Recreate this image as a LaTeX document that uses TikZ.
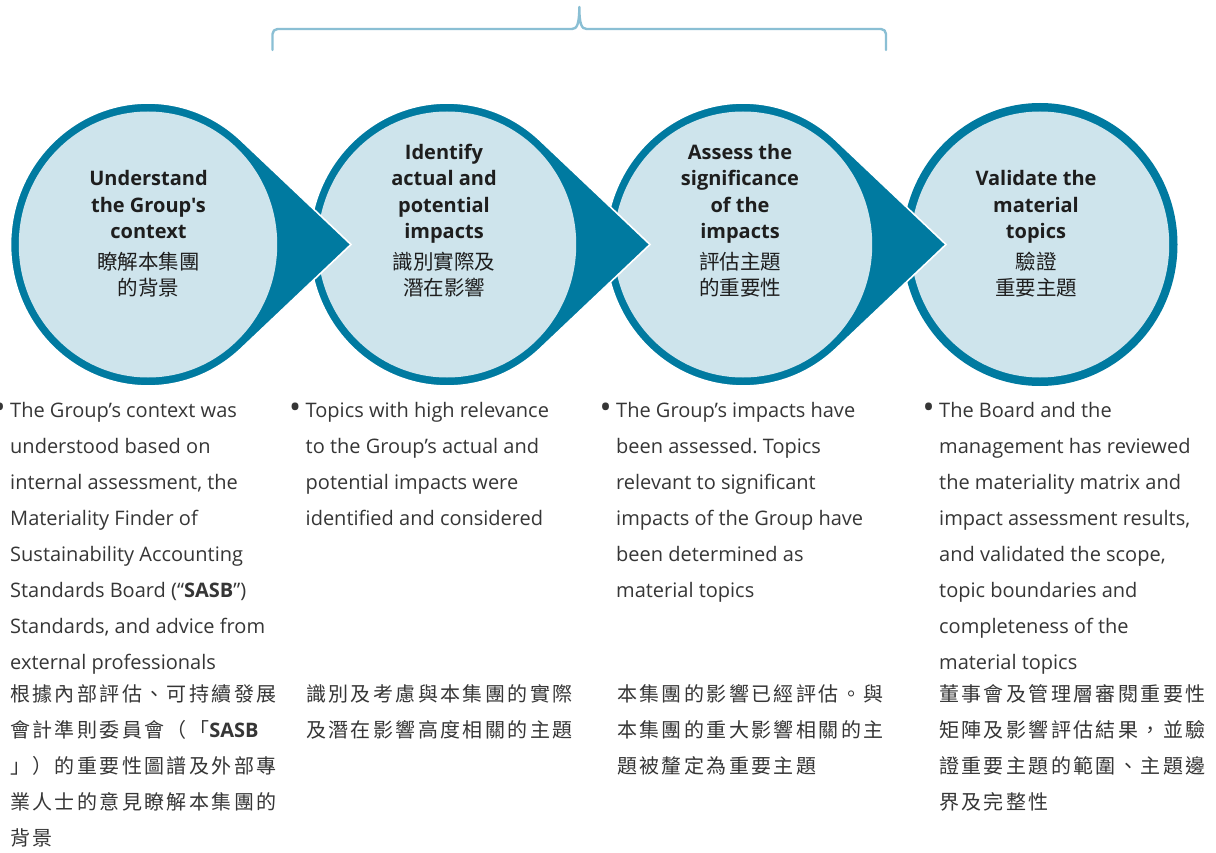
\documentclass[tikz,border=0pt]{standalone}
\usepackage{fontspec}
\setmainfont{Open Sans}
\newfontfamily\headfont{Open Sans}[Ligatures=TeXOff]
\newfontfamily\cjk{Noto Sans CJK TC}
\newfontfamily\cjkbody{Noto Sans CJK TC}[LetterSpace=12]
\frenchspacing
\definecolor{ringteal}{HTML}{007AA0}
\definecolor{discfill}{HTML}{CEE4EC}
\definecolor{bracecol}{HTML}{8ABFD4}
\definecolor{bodytext}{HTML}{363636}
\definecolor{headtext}{HTML}{1E1E1E}

% one step: teal tear-drop pointing right, light disc on top
\newcommand\stepdrop[1]{%
  \begin{scope}[shift={(#1,244.5)},xscale=0.9717]
    \filldraw[fill=ringteal,draw=white,line width=1.6pt]
      (208.9,0) -- (47.36:141.5) arc[start angle=47.36,end angle=312.64,radius=141.5] -- cycle;
    \fill[discfill] (0,0) circle[radius=133];
  \end{scope}}
% last step: plain ringed disc
\newcommand\stepdisc[1]{%
  \begin{scope}[shift={(#1,244.5)},xscale=0.9717]
    \fill[ringteal] (0,0) circle[radius=141.5];
    \fill[discfill] (0,0) circle[radius=133];
  \end{scope}}
% list bullet hung in the left margin
\newcommand\hangbullet{\llap{{\fontsize{32}{32}\selectfont\raisebox{-1.5pt}{•}}\hspace{4.5pt}}}

\begin{document}
\begin{tikzpicture}[x=1pt,y=-1pt,
  headen/.style={inner sep=0pt,align=center,text=headtext,anchor=base,
    font=\headfont\fontsize{20}{26.5}\selectfont\bfseries},
  headzh/.style={inner sep=0pt,align=center,text=headtext,anchor=base,
    font=\cjk\fontsize{20.5}{26}\selectfont},
  bodyen/.style={inner sep=0pt,align=left,text=bodytext,anchor=base west,
    font=\fontsize{20}{36}\selectfont},
  bodyzh/.style={inner sep=0pt,align=left,text=bodytext,anchor=base west,
    font=\cjkbody\fontsize{20}{36}\selectfont}]
\useasboundingbox[fill=white] (0,0) rectangle (1216,853);

% bracket over the middle steps
\draw[bracecol,line width=2.4pt,line cap=round,line join=round]
  (272.5,50) -- (272.5,34) arc[start angle=180,end angle=270,radius=5]
  -- (572,29) .. controls (577,29) and (579.3,24) .. (579.3,7)
  .. controls (579.3,24) and (581.6,29) .. (586.6,29)
  -- (881,29) arc[start angle=270,end angle=360,radius=5] -- (886,50);

% steps, drawn right to left so each point lies over the next disc
\stepdisc{1040}
\stepdrop{743}
\stepdrop{447}
\stepdrop{148}

% step titles (anchored on the baseline of their last line)
\node[headen] (h1) at (148.5,239) {Understand\\the Group's\\context};
\node[headzh] (z1) at (148.5,295.6) {瞭解本集團\\的背景};
\node[headen] (h2) at (444,239) {Identify\\actual and\\potential\\impacts};
\node[headzh] (z2) at (444,295.6) {識別實際及\\潛在影響};
\node[headen] (h3) at (740,239) {Assess the\\significance\\of the\\impacts};
\node[headzh] (z3) at (740,295.6) {評估主題\\的重要性};
\node[headen] (h4) at (1036,239) {Validate the\\material\\topics};
\node[headzh] (z4) at (1036,295.6) {驗證\\重要主題};

% descriptions (anchored on the baseline of their last line)
\node[bodyen] (e1) at (10,669) {\hangbullet The Group’s context was\\understood based on\\internal assessment, the\\Materiality Finder of\\Sustainability Accounting\\Standards Board (“\textbf{SASB}”)\\Standards, and advice from\\external professionals};
\node[bodyzh] (c1) at (10,845) {根據內部評估、可持續發展\\會計準則委員會（「{\normalfont\bfseries SASB}\\」）的重要性圖譜及外部專\\業人士的意見瞭解本集團的\\背景};

\node[bodyen] (e2) at (305.5,525) {\hangbullet Topics with high relevance\\to the Group’s actual and\\potential impacts were\\identified and considered};
\node[bodyzh] (c2) at (306,737) {識別及考慮與本集團的實際\\及潛在影響高度相關的主題};

\node[bodyen] (e3) at (616,597) {\hangbullet The Group’s impacts have\\been assessed. Topics\\relevant to significant\\impacts of the Group have\\been determined as\\material topics};
\node[bodyzh] (c3) at (617,773) {本集團的影響已經評估。與\\本集團的重大影響相關的主\\題被釐定為重要主題};

\node[bodyen] (e4) at (939,669) {\hangbullet The Board and the\\management has reviewed\\the materiality matrix and\\impact assessment results,\\and validated the scope,\\topic boundaries and\\completeness of the\\material topics};
\node[bodyzh] (c4) at (939,809) {董事會及管理層審閱重要性\\矩陣及影響評估結果，並驗\\證重要主題的範圍、主題邊\\界及完整性};
\end{tikzpicture}
\end{document}
